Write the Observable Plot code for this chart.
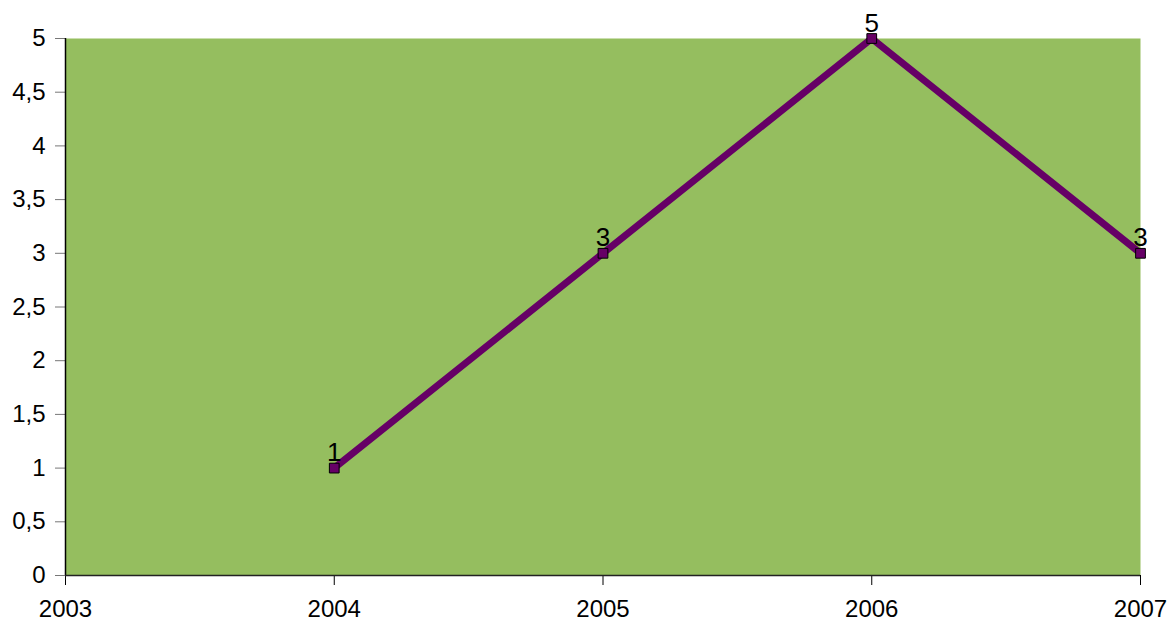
<!DOCTYPE html>
<html>
<head>
<meta charset="utf-8">
<script src="https://cdn.jsdelivr.net/npm/d3@7"></script>
<script src="https://cdn.jsdelivr.net/npm/@observablehq/plot@0.6"></script>
<style>
  html, body { margin: 0; padding: 0; background: #fff; }
  #chart { width: 1174px; height: 622px; }
  svg { font-family: "Liberation Sans", Arial, sans-serif; }
</style>
</head>
<body>
<div id="chart"></div>
<script>
const years = [2004, 2005, 2006, 2007];
const values = [1, 3, 5, 3];
const xTicks = [2003, 2004, 2005, 2006, 2007];
const yTicks = [0, 0.5, 1, 1.5, 2, 2.5, 3, 3.5, 4, 4.5, 5];

const data = years.map((y, i) => ({year: y, value: values[i]}));
const comma = d => String(d).replace(".", ",");

const chart = Plot.plot({
  width: 1174,
  height: 622,
  marginLeft: 65,
  marginRight: 34,
  marginTop: 38,
  marginBottom: 47,
  style: {fontFamily: "Liberation Sans, Arial, sans-serif", fontSize: "24px", color: "#000", background: "#fff", overflow: "visible"},
  x: {domain: [2003, 2007], label: null},
  y: {domain: [0, 5], label: null},
  marks: [
    Plot.frame({fill: "#95BE5F", stroke: null}),
    Plot.axisX({ticks: xTicks, tickFormat: d => String(d), tickSize: 10, tickPadding: 14, stroke: "#000", strokeOpacity: 1, fontSize: 24, label: null}),
    Plot.axisY({ticks: yTicks, tickFormat: comma, tickSize: 10, tickPadding: 10, stroke: "#777", strokeOpacity: 1, fontSize: 24, label: null}),
    Plot.ruleX([2003], {stroke: "#000", strokeWidth: 1.5}),
    Plot.ruleY([0], {stroke: "#222", strokeWidth: 1.5}),
    Plot.line(data, {x: "year", y: "value", stroke: "#660066", strokeWidth: 7}),
    Plot.dot(data, {x: "year", y: "value", symbol: "square", r: 5.5, fill: "#660066", stroke: "#000", strokeWidth: 1}),
    Plot.text(data, {x: "year", y: "value", text: d => comma(d.value), lineAnchor: "bottom", dy: -7, fontSize: 26, fill: "#000"})
  ]
});
document.getElementById("chart").appendChild(chart);
</script>
</body>
</html>
